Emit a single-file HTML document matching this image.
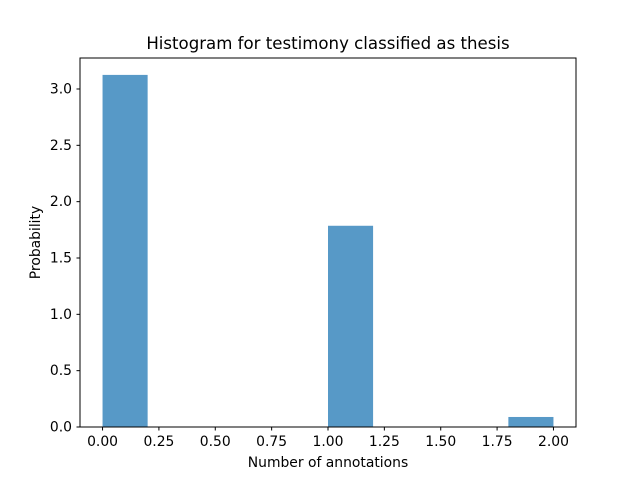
<!DOCTYPE html>
<html><head><meta charset="utf-8"><style>
body{margin:0;background:#fff;}
svg{display:block;font-family:"DejaVu Sans","Liberation Sans",sans-serif;}
</style></head><body>
<svg id="chart" width="640" height="480">
<rect width="640" height="480" fill="#fff"/>
<text x="328" y="49" text-anchor="middle" font-size="16.6">Histogram for testimony classified as thesis</text>
<g id="bars"></g>
<g id="xticks"></g>
<g id="yticks"></g>
<rect x="80" y="58" width="496" height="369" fill="none" stroke="#000" stroke-width="1"/>
<text x="328" y="467" text-anchor="middle" font-size="13.9">Number of annotations</text>
<text transform="translate(40,242.5) rotate(-90)" text-anchor="middle" font-size="13.9">Probability</text>
</svg>
<script>
const binStarts=[0,0.2,0.4,0.6,0.8,1.0,1.2,1.4,1.6,1.8];
const binWidth=0.2;
const densities=[3.125,0,0,0,0,1.786,0,0,0,0.089];
const xTickVals=[0,0.25,0.5,0.75,1.0,1.25,1.5,1.75,2.0];
const xTickLabels=["0.00","0.25","0.50","0.75","1.00","1.25","1.50","1.75","2.00"];
const yTickVals=[0,0.5,1.0,1.5,2.0,2.5,3.0];
const yTickLabels=["0.0","0.5","1.0","1.5","2.0","2.5","3.0"];
const NS="http://www.w3.org/2000/svg";
const X0=80,X1=576,Y0=427,Y1=58,xmin=-0.1,xmax=2.1,ymin=0,ymax=3.275;
const xs=v=>X0+(v-xmin)/(xmax-xmin)*(X1-X0);
const ys=v=>Y0-(v-ymin)/(ymax-ymin)*(Y0-Y1);
const bars=document.getElementById('bars');
binStarts.forEach((b,i)=>{
 if(densities[i]<=0)return;
 const r=document.createElementNS(NS,'rect');
 r.setAttribute('x',xs(b));r.setAttribute('width',xs(b+binWidth)-xs(b));
 r.setAttribute('y',ys(densities[i]));r.setAttribute('height',ys(0)-ys(densities[i]));
 r.setAttribute('fill','#5799c7');
 
 
 bars.appendChild(r);
});
const xt=document.getElementById('xticks');
xTickVals.forEach((v,i)=>{
 const x=xs(v);
 const l=document.createElementNS(NS,'line');
 l.setAttribute('x1',x);l.setAttribute('x2',x);l.setAttribute('y1',427);l.setAttribute('y2',430.5);l.setAttribute('stroke','#000');
 
 
 xt.appendChild(l);
 const t=document.createElementNS(NS,'text');
 t.setAttribute('x',x);t.setAttribute('y',446);t.setAttribute('text-anchor','middle');t.setAttribute('font-size','13.9');
 t.textContent=xTickLabels[i];
 
 
 xt.appendChild(t);
});
const yt=document.getElementById('yticks');
yTickVals.forEach((v,i)=>{
 const y=ys(v);
 const l=document.createElementNS(NS,'line');
 l.setAttribute('x1',76.5);l.setAttribute('x2',80);l.setAttribute('y1',y);l.setAttribute('y2',y);l.setAttribute('stroke','#000');
 
 
 yt.appendChild(l);
 const t=document.createElementNS(NS,'text');
 t.setAttribute('x',72);t.setAttribute('y',y+4.5);t.setAttribute('text-anchor','end');t.setAttribute('font-size','13.9');
 t.textContent=yTickLabels[i];
 
 
 yt.appendChild(t);
});
</script>
</body></html>
